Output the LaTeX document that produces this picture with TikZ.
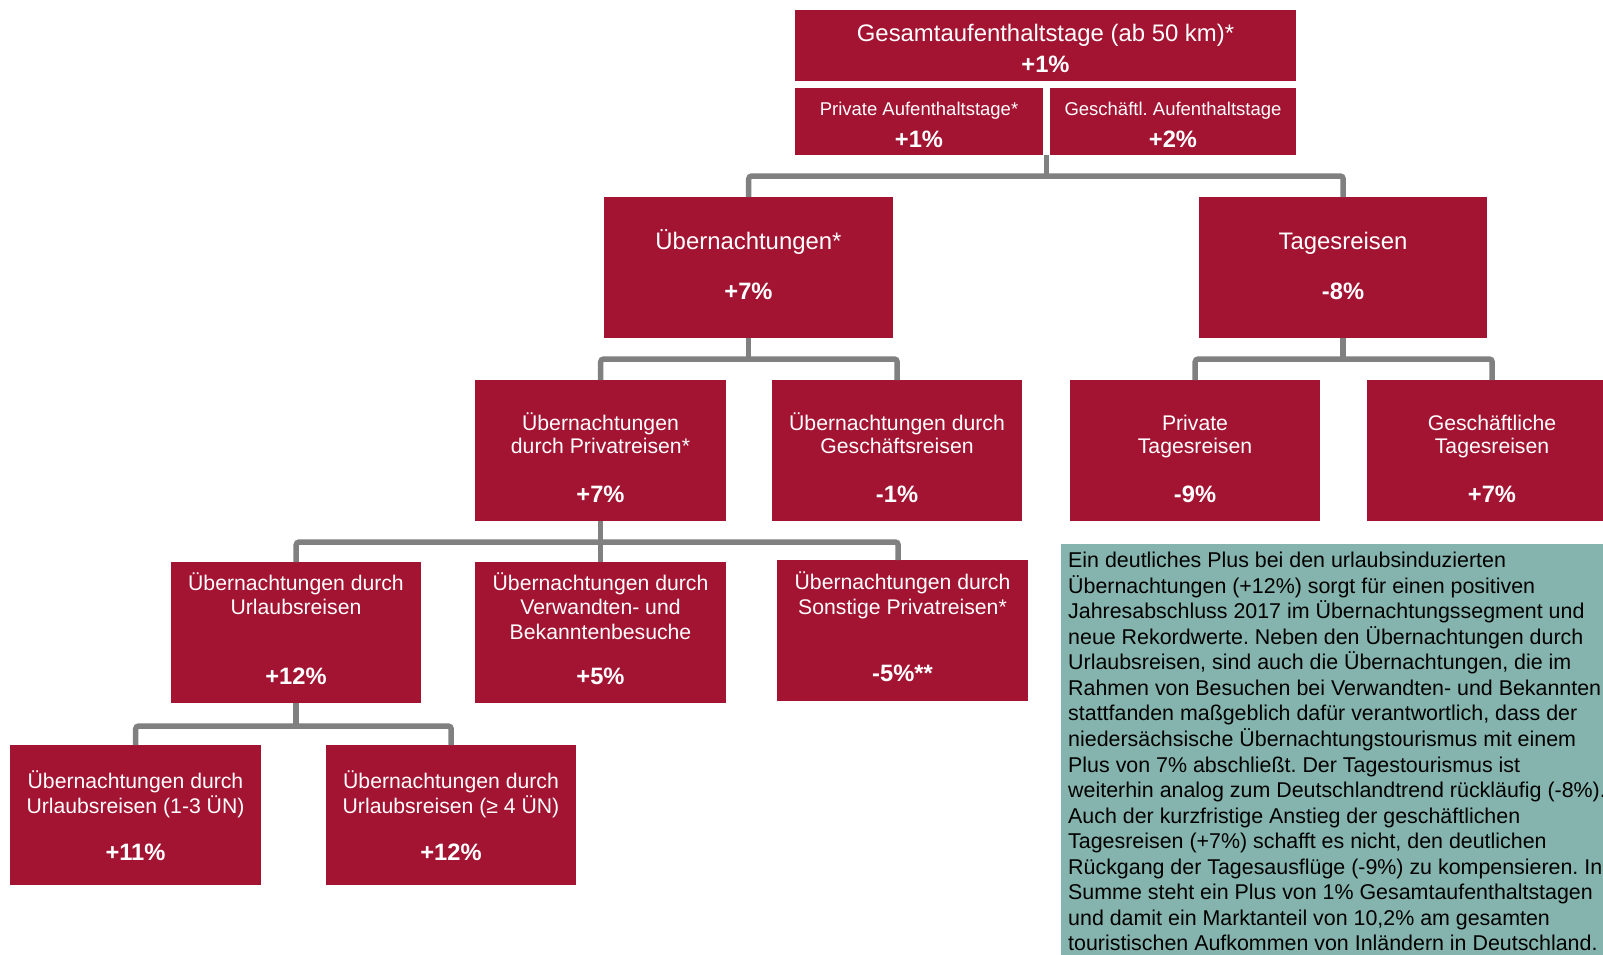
\documentclass[tikz,border=0pt]{standalone}
\usepackage{fontspec}
\setmainfont{Liberation Sans}
\frenchspacing
\usetikzlibrary{calc}
\definecolor{boxred}{RGB}{163,19,50}
\definecolor{noteteal}{RGB}{132,180,173}
\definecolor{conngray}{RGB}{128,128,128}
\tikzset{
  box/.style={fill=boxred, draw=none, inner sep=0pt, anchor=north west, minimum width=250pt, minimum height=141pt},
  lbl/.style={text=white, inner sep=0pt, anchor=base, font=\fontsize{21.2}{24}\selectfont},
  biglbl/.style={text=white, inner sep=0pt, anchor=base, font=\fontsize{23.9}{28}\selectfont},
  smalllbl/.style={text=white, inner sep=0pt, anchor=base, font=\fontsize{18.5}{22}\selectfont},
  val/.style={text=white, inner sep=0pt, anchor=base, font=\fontsize{23.7}{28}\selectfont\bfseries},
  conn/.style={draw=conngray, line width=5.5pt, rounded corners=3pt},
  para/.style={text=black, inner sep=0pt, anchor=base west, font=\fontsize{21.4}{25.5}\selectfont}
}
\begin{document}
\frenchspacing
\begin{tikzpicture}[x=1pt, y=-1pt]
\useasboundingbox (0,0) rectangle (1603,954);
\clip (0,0) rectangle (1603,954);

% boxes
\node[box, minimum width=501pt, minimum height=71pt] (top) at (795,10) {};
\node[box, minimum width=248pt, minimum height=67pt] (subL) at (795,88) {};
\node[box, minimum width=246pt, minimum height=67pt] (subR) at (1050,88) {};
\node[box, minimum width=289pt] (ueb) at (604,197) {};
\node[box, minimum width=288pt] (tag) at (1199,197) {};
\node[box, minimum width=251pt] (priv) at (475,380) {};
\node[box] (gesch) at (772,380) {};
\node[box] (ptag) at (1070,380) {};
\node[box] (gtag) at (1367,380) {};
\node[box] (url) at (171,562) {};
\node[box, minimum width=251pt] (verw) at (475,562) {};
\node[box, minimum width=251pt] (sonst) at (777,560) {};
\node[box, minimum width=251pt, minimum height=140pt] (uA) at (10,745) {};
\node[box, minimum height=140pt] (uB) at (326,745) {};
\node[fill=noteteal, draw=none, inner sep=0pt, anchor=north west, minimum width=560pt, minimum height=420pt] (note) at (1061,544) {};

% connectors
\coordinate (topj) at ($(subL.south east)!0.5!(subR.south west)$);
\draw[conn] (topj) -- ++(0,23);
\draw[conn] (ueb.north) -- ++(0,-21) -| (tag.north);
\draw[conn] (ueb.south) -- ++(0,23);
\draw[conn] (priv.north) -- ++(0,-21) -| (gesch.north);
\draw[conn] (tag.south) -- ++(0,23);
\draw[conn] (ptag.north) -- ++(0,-21) -| (gtag.north);
\draw[conn] (priv.south) -- (verw.north);
\draw[conn] (url.north) -- ++(0,-20) -| ([xshift=-4.5pt]sonst.north);
\draw[conn] (url.south) -- ++(0,23);
\draw[conn] (uA.north) -- ++(0,-19) -| (uB.north);

% texts
\node[biglbl] (topt) at (1045.5,41) {Gesamtaufenthaltstage (ab 50 km)*};
\node[val] (topv) at (1045.5,72) {+1\%};
\node[smalllbl] (subLt) at (919,115) {Private Aufenthaltstage*};
\node[val] (subLv) at (919,147) {+1\%};
\node[smalllbl] (subRt) at (1173,115) {Geschäftl. Aufenthaltstage};
\node[val] (subRv) at (1173,147) {+2\%};

\node[biglbl] (uebt) at (748.5,249) {Übernachtungen*};
\node[val] (uebv) at (748.5,299) {+7\%};
\node[biglbl] (tagt) at (1343,249) {Tagesreisen};
\node[val] (tagv) at (1343,299) {-8\%};

\node[lbl] (priva) at (600.5,430) {Übernachtungen};
\node[lbl] (privb) at (600.5,453) {durch Privatreisen*};
\node[val] (privv) at (600.5,502) {+7\%};
\node[lbl] (gescha) at (897,430) {Übernachtungen durch};
\node[lbl] (geschb) at (897,453) {Geschäftsreisen};
\node[val] (geschv) at (897,502) {-1\%};
\node[lbl] (ptaga) at (1195,430) {Private};
\node[lbl] (ptagb) at (1195,453) {Tagesreisen};
\node[val] (ptagv) at (1195,502) {-9\%};
\node[lbl] (gtaga) at (1492,430) {Geschäftliche};
\node[lbl] (gtagb) at (1492,453) {Tagesreisen};
\node[val] (gtagv) at (1492,502) {+7\%};

\node[lbl] (urla) at (296,590.5) {Übernachtungen durch};
\node[lbl] (urlb) at (296,614.5) {Urlaubsreisen};
\node[val] (urlv) at (296,684.5) {+12\%};
\node[lbl] (verwa) at (600.5,590.5) {Übernachtungen durch};
\node[lbl] (verwb) at (600.5,614.5) {Verwandten- und};
\node[lbl] (verwc) at (600.5,639.5) {Bekanntenbesuche};
\node[val] (verwv) at (600.5,684.5) {+5\%};
\node[lbl] (sonsta) at (902.5,589.5) {Übernachtungen durch};
\node[lbl] (sonstb) at (902.5,614.5) {Sonstige Privatreisen*};
\node[val] (sonstv) at (902.5,681.5) {-5\%**};

\node[lbl] (uAa) at (135.5,788) {Übernachtungen durch};
\node[lbl] (uAb) at (135.5,813) {Urlaubsreisen (1-3 ÜN)};
\node[val] (uAv) at (135.5,860.5) {+11\%};
\node[lbl] (uBa) at (451,788) {Übernachtungen durch};
\node[lbl] (uBb) at (451,813) {Urlaubsreisen (≥ 4 ÜN)};
\node[val] (uBv) at (451,860.5) {+12\%};

% paragraph
\foreach \t [count=\i from 0] in {
  {Ein deutliches Plus bei den urlaubsinduzierten},
  {Übernachtungen (+12\%) sorgt für einen positiven},
  {Jahresabschluss 2017 im Übernachtungssegment und},
  {neue Rekordwerte. Neben den Übernachtungen durch},
  {Urlaubsreisen, sind auch die Übernachtungen, die im},
  {Rahmen von Besuchen bei Verwandten- und Bekannten},
  {stattfanden maßgeblich dafür verantwortlich, dass der},
  {niedersächsische Übernachtungstourismus mit einem},
  {Plus von 7\% abschließt. Der Tagestourismus ist},
  {weiterhin analog zum Deutschlandtrend rückläufig (-8\%).},
  {Auch der kurzfristige Anstieg der geschäftlichen},
  {Tagesreisen (+7\%) schafft es nicht, den deutlichen},
  {Rückgang der Tagesausflüge (-9\%) zu kompensieren. In},
  {Summe steht ein Plus von 1\% Gesamtaufenthaltstagen},
  {und damit ein Marktanteil von 10,2\% am gesamten},
  {touristischen Aufkommen von Inländern in Deutschland.}}
  \node[para] (p\i) at (1068, 567.6+25.55*\i) {\t};
\end{tikzpicture}
\end{document}
